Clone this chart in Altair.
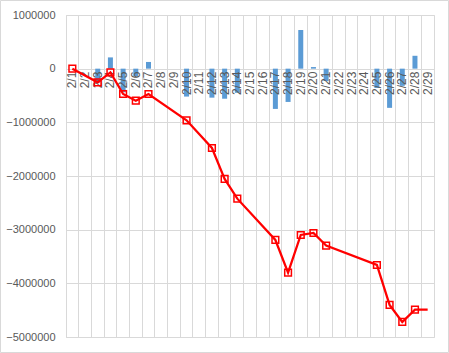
import altair as alt
import pandas as pd

# categories (x axis)
dates = [f"2/{d}" for d in range(1, 30)]

# daily bars
bar_dates = ["2/1", "2/3", "2/4", "2/5", "2/6", "2/7", "2/10", "2/12", "2/13", "2/14",
             "2/17", "2/18", "2/19", "2/20", "2/21", "2/25", "2/26", "2/27", "2/28"]
bar_vals = [0, -260000, 210000, -440000, -140000, 125000, -520000, -540000, -560000, -450000,
            -750000, -620000, 720000, 30000, -230000, -360000, -730000, -320000, 240000]

# cumulative line
line_dates = bar_dates + ["2/29"]
line_vals = [0, -255000, -68000, -472000, -596000, -472000, -963000, -1478000, -2055000, -2422000,
             -3192000, -3801000, -3099000, -3062000, -3298000, -3658000, -4403000, -4720000,
             -4490000, -4490000]
marker_flags = [True] * len(bar_dates) + [False]

y_ticks = [1000000, 0, -1000000, -2000000, -3000000, -4000000, -5000000]

bars_df = pd.DataFrame({"date": bar_dates, "value": bar_vals})
line_df = pd.DataFrame({"date": line_dates, "value": line_vals, "marker": marker_flags})
label_df = pd.DataFrame({"date": dates, "zero": [0] * len(dates)})

GRID = "#D9D9D9"
TEXT = "#595959"
FONT = "Liberation Sans"

x_scale = alt.Scale(domain=dates, paddingInner=0, paddingOuter=0)
y_scale = alt.Scale(domain=[-5000000, 1000000], nice=False)

x_enc = alt.X("date:N", scale=x_scale, sort=dates,
              axis=alt.Axis(title=None, labels=False, ticks=False, domain=False,
                            grid=True, gridColor=GRID, gridWidth=1, bandPosition=0))
y_axis = alt.Axis(title=None, values=y_ticks, format="d", ticks=False, domain=False,
                  grid=True, gridColor=GRID, gridWidth=1, labelColor=TEXT,
                  labelFontSize=11, labelFont=FONT, labelPadding=11)

bars = alt.Chart(bars_df).mark_bar(size=5, color="#5B9BD5").encode(
    x=x_enc,
    y=alt.Y("value:Q", scale=y_scale, axis=y_axis),
)

labels = alt.Chart(label_df).mark_text(
    angle=270, align="right", baseline="middle", dx=-3,
    fontSize=12, font=FONT, color=TEXT
).encode(
    x=alt.X("date:N", scale=x_scale, sort=dates),
    y=alt.Y("zero:Q", scale=y_scale),
    text="date:N",
)

line = alt.Chart(line_df).mark_line(color="#FF0000", strokeWidth=2.25).encode(
    x=alt.X("date:N", scale=x_scale, sort=dates),
    y=alt.Y("value:Q", scale=y_scale),
)

points = alt.Chart(line_df).transform_filter("datum.marker").mark_point(
    shape="square", filled=False, size=45, strokeWidth=1.5, color="#FF0000", opacity=1
).encode(
    x=alt.X("date:N", scale=x_scale, sort=dates),
    y=alt.Y("value:Q", scale=y_scale),
)

border = alt.Chart(alt.Data(values=[{"a": 1}])).mark_rect(
    fill=None, stroke=GRID, strokeWidth=1, clip=False
).encode(
    x=alt.value(-65.5), x2=alt.value(382.5), y=alt.value(-14.5), y2=alt.value(337.5)
)

chart = alt.layer(bars, labels, line, points, border).properties(
    width=368, height=322,
    autosize=alt.AutoSizeParams(type="none"),
    padding={"left": 66, "top": 15, "right": 15, "bottom": 16},
    background="white",
).configure_view(stroke=GRID, strokeWidth=1)

chart.save("out.html", embed_options={"renderer": "svg", "actions": False})
